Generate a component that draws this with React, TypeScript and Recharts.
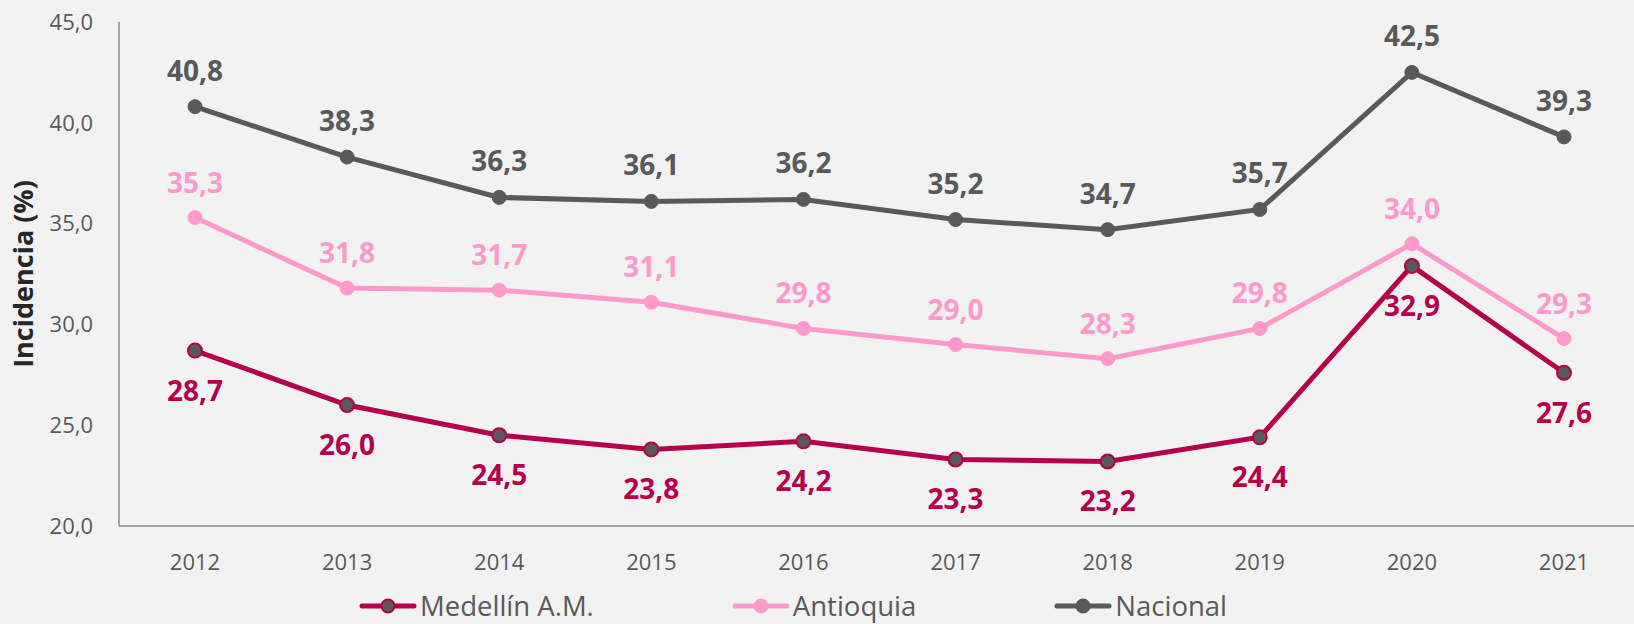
import React from "react";
import { LineChart, Line, XAxis, YAxis, Legend } from "recharts";

// --- datos ---
const years = ["2012", "2013", "2014", "2015", "2016", "2017", "2018", "2019", "2020", "2021"];
const medellin = [28.7, 26.0, 24.5, 23.8, 24.2, 23.3, 23.2, 24.4, 32.9, 27.6];
const antioquia = [35.3, 31.8, 31.7, 31.1, 29.8, 29.0, 28.3, 29.8, 34.0, 29.3];
const nacional = [40.8, 38.3, 36.3, 36.1, 36.2, 35.2, 34.7, 35.7, 42.5, 39.3];
const yTicks = [20, 25, 30, 35, 40, 45];

const data = years.map((year, i) => ({
  year,
  medellin: medellin[i],
  antioquia: antioquia[i],
  nacional: nacional[i],
}));

const CRIMSON = "#B5004B";
const PINK = "#FF99CC";
const GRAY = "#595959";
const FONT = "'Segoe UI', 'Open Sans', sans-serif";

const fmt = (v: number) => v.toFixed(1).replace(".", ",");

const series = [
  { key: "medellin", name: "Medellín A.M.", color: CRIMSON, dotFill: GRAY },
  { key: "antioquia", name: "Antioquia", color: PINK, dotFill: PINK },
  { key: "nacional", name: "Nacional", color: GRAY, dotFill: GRAY },
];

// etiqueta arriba (dy negativo) o abajo (dy positivo)
const makeLabel = (color: string, dy: number) => (props: any) => {
  const { x, y, value, index } = props;
  return (
    <text
      key={`lbl-${index}`}
      x={x}
      y={y + dy}
      fill={color}
      textAnchor="middle"
      fontFamily={FONT}
      fontSize={28}
      fontWeight={700}
    >
      {fmt(value)}
    </text>
  );
};

const XTick = ({ x, y, payload }: any) => (
  <text x={x} y={y + 44} textAnchor="middle" fill={GRAY} fontFamily={FONT} fontSize={22}>
    {payload.value}
  </text>
);

const YTick = ({ x, y, payload }: any) => (
  <text x={x - 26} y={y} dy="0.35em" textAnchor="end" fill={GRAY} fontFamily={FONT} fontSize={22}>
    {fmt(payload.value)}
  </text>
);

const LegendContent = () => (
  <div style={{ display: "flex", alignItems: "center", paddingLeft: 359, gap: 138, height: 28 }}>
    {series.map((s) => (
      <div key={s.key} style={{ display: "flex", alignItems: "center" }}>
        <svg width={58} height={20}>
          <line x1={3} y1={10} x2={55} y2={10} stroke={s.color} strokeWidth={5} strokeLinecap="round" />
          <circle cx={29} cy={10} r={6.5} fill={s.dotFill} stroke={s.color} strokeWidth={2} />
        </svg>
        <span style={{ fontFamily: FONT, fontSize: 27.5, color: GRAY, marginLeft: 3, lineHeight: "28px" }}>
          {s.name}
        </span>
      </div>
    ))}
  </div>
);

export default function App() {
  return (
    <div
      style={{
        position: "fixed",
        left: 0,
        top: 0,
        width: 1634,
        height: 624,
        overflow: "hidden",
        background: "#F2F2F2",
      }}
    >
      <LineChart width={1640} height={624} data={data} margin={{ top: 22, right: 0, left: 0, bottom: 0 }}>
        <XAxis
          dataKey="year"
          height={98}
          padding={{ left: 76, right: 76 }}
          tickLine={false}
          tickSize={0}
          tickMargin={0}
          tick={<XTick />}
          axisLine={{ stroke: "#898989", strokeWidth: 1.5 }}
        />
        <YAxis
          width={119}
          domain={[20, 45]}
          ticks={yTicks}
          tickLine={false}
          tickSize={0}
          tickMargin={0}
          tick={<YTick />}
          axisLine={{ stroke: "#898989", strokeWidth: 1.5 }}
          label={{
            content: () => (
              <text
                transform="translate(33, 274) rotate(-90)"
                textAnchor="middle"
                fill="#262626"
                fontFamily={FONT}
                fontSize={27}
                fontWeight={700}
              >
                Incidencia (%)
              </text>
            ),
          }}
        />
        <Legend
          layout="horizontal"
          verticalAlign="middle"
          align="center"
          content={<LegendContent />}
          wrapperStyle={{ top: 592, left: 0, width: 1634 }}
        />
        <Line
          dataKey="nacional"
          name="Nacional"
          stroke={GRAY}
          strokeWidth={5}
          dot={{ r: 7, fill: GRAY, stroke: GRAY, strokeWidth: 1 }}
          label={makeLabel(GRAY, -26)}
          isAnimationActive={false}
        />
        <Line
          dataKey="antioquia"
          name="Antioquia"
          stroke={PINK}
          strokeWidth={5}
          dot={{ r: 7, fill: PINK, stroke: PINK, strokeWidth: 1 }}
          label={makeLabel(PINK, -25)}
          isAnimationActive={false}
        />
        <Line
          dataKey="medellin"
          name="Medellín A.M."
          stroke={CRIMSON}
          strokeWidth={5}
          dot={{ r: 7, fill: GRAY, stroke: CRIMSON, strokeWidth: 2 }}
          label={makeLabel(CRIMSON, 50)}
          isAnimationActive={false}
        />
      </LineChart>
    </div>
  );
}
